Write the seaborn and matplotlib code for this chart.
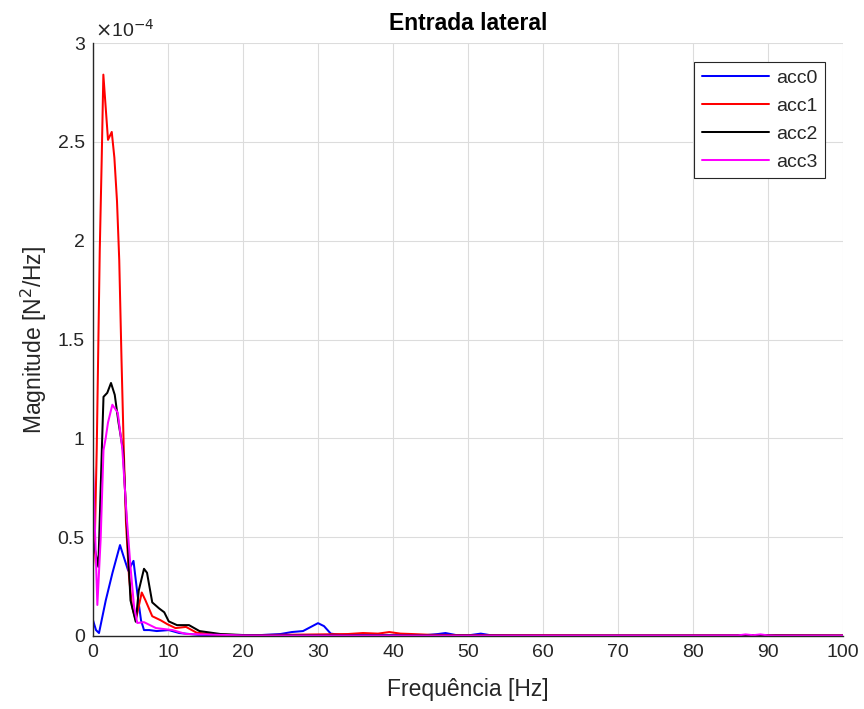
import numpy as np
import pandas as pd
import matplotlib
matplotlib.use("Agg")
import matplotlib.pyplot as plt
import seaborn as sns

# ---- data (values in units of 1e-4 N^2/Hz) ----
f_acc0 = [0, 0.4, 0.8, 1.7, 2.6, 3.6, 4.1, 4.7, 5.4, 5.9, 6.4, 6.8, 7.5, 8.5, 10.1, 11.5, 14, 18, 22,
          25, 26.5, 28, 29, 30, 30.8, 31.7, 33, 36, 40, 44, 46, 47, 48.5, 50, 51.7, 53, 56, 60, 70,
          80, 90, 100]
v_acc0 = [0.08, 0.03, 0.015, 0.18, 0.32, 0.46, 0.40, 0.33, 0.38, 0.22, 0.08, 0.03, 0.03, 0.025, 0.03,
          0.015, 0.006, 0.003, 0.004, 0.01, 0.02, 0.025, 0.045, 0.065, 0.05, 0.012, 0.006, 0.004,
          0.004, 0.003, 0.01, 0.015, 0.004, 0.003, 0.012, 0.004, 0.002, 0.002, 0.002, 0.002, 0.002,
          0.002]

f_acc1 = [0, 0.25, 0.5, 0.9, 1.16, 1.38, 2.0, 2.5, 2.85, 3.2, 3.5, 3.8, 4.1, 4.4, 4.8, 5.2, 5.7,
          6.5, 7.0, 7.9, 9.0, 9.9, 11, 12.4, 13.8, 16, 20, 25, 30, 34, 36, 38, 39.5, 41, 42.5, 45,
          50, 60, 70, 80, 90, 100]
v_acc1 = [0.35, 0.5, 0.95, 1.95, 2.41, 2.84, 2.51, 2.55, 2.42, 2.2, 1.9, 1.4, 0.95, 0.57, 0.3, 0.15,
          0.08, 0.22, 0.18, 0.10, 0.08, 0.06, 0.04, 0.046, 0.017, 0.008, 0.004, 0.006, 0.008, 0.01,
          0.015, 0.012, 0.02, 0.012, 0.01, 0.006, 0.004, 0.004, 0.003, 0.003, 0.004, 0.003]

f_acc2 = [0, 0.35, 0.71, 1.2, 1.4, 1.9, 2.4, 2.9, 3.4, 4.0, 4.6, 5.0, 5.7, 6.1, 6.8, 7.2, 7.9, 8.8,
          9.5, 10.1, 11.2, 12.8, 14.2, 17, 20, 25, 30, 40, 50, 60, 70, 80, 90, 100]
v_acc2 = [0.49, 0.42, 0.35, 0.97, 1.21, 1.23, 1.28, 1.22, 1.08, 0.94, 0.49, 0.18, 0.072, 0.23, 0.34,
          0.32, 0.17, 0.14, 0.12, 0.074, 0.055, 0.055, 0.025, 0.01, 0.005, 0.004, 0.003, 0.003,
          0.003, 0.002, 0.002, 0.002, 0.003, 0.002]

f_acc3 = [0, 0.58, 1.02, 1.4, 1.69, 2.0, 2.58, 3.3, 3.9, 4.5, 5.0, 5.47, 5.9, 6.8, 8.4, 10.6, 12.4,
          20, 30, 40, 50, 60, 70, 80, 86, 87, 88, 89, 90, 91, 95, 100]
v_acc3 = [0.86, 0.157, 0.49, 0.94, 1.0, 1.08, 1.17, 1.13, 0.95, 0.6, 0.35, 0.15, 0.066, 0.07, 0.04,
          0.03, 0.01, 0.003, 0.002, 0.002, 0.002, 0.002, 0.002, 0.002, 0.003, 0.008, 0.004, 0.008,
          0.003, 0.002, 0.002, 0.002]

series_names = ["acc0", "acc1", "acc2", "acc3"]
series_colors = ["#0000ff", "#ff0000", "#000000", "#ff00ff"]

x_ticks = [0, 10, 20, 30, 40, 50, 60, 70, 80, 90, 100]
y_ticks = [0, 0.5, 1, 1.5, 2, 2.5, 3]
y_tick_labels = ["0", "0.5", "1", "1.5", "2", "2.5", "3"]

# ---- long-form table ----
frames = []
for name, f, v in zip(series_names, [f_acc0, f_acc1, f_acc2, f_acc3],
                      [v_acc0, v_acc1, v_acc2, v_acc3]):
    frames.append(pd.DataFrame({"freq": f, "mag": v, "sensor": name}))
df = pd.concat(frames, ignore_index=True)

sns.set_style("white")
plt.rcParams["font.family"] = ["Liberation Sans", "DejaVu Sans"]

fig = plt.figure(figsize=(8.64, 7.09), dpi=100)
ax = fig.add_axes([93 / 864, 1 - 636 / 709, 750 / 864, 593 / 709])

sns.lineplot(data=df, x="freq", y="mag", hue="sensor", palette=series_colors,
             estimator=None, sort=True, linewidth=1.45, ax=ax)

ax.set_xlim(0, 100)
ax.set_ylim(0, 3)
ax.set_xticks(x_ticks)
ax.set_yticks(y_ticks)
ax.set_yticklabels(y_tick_labels)
ax.grid(True, color="#dcdcdc", linewidth=0.8)
ax.set_axisbelow(True)
for s in ["top", "right"]:
    ax.spines[s].set_visible(False)
for s in ["left", "bottom"]:
    ax.spines[s].set_color("#262626")
    ax.spines[s].set_linewidth(1.0)
ax.tick_params(direction="in", length=5, width=0.8, colors="#262626",
               labelsize=14, labelcolor="#262626", pad=6)

ax.set_xlabel("Frequência [Hz]", fontsize=16.5, color="#262626", labelpad=12)
ax.set_ylabel("Magnitude [N$^2$/Hz]", fontsize=16.5, color="#262626", labelpad=6)
ax.set_title("Entrada lateral", fontsize=16.5, fontweight="bold", color="#000000", pad=9)
ax.text(0.003, 1.003, r"$\times$10$^{-4}$", transform=ax.transAxes, fontsize=14,
        color="#262626", ha="left", va="bottom")

leg = ax.legend(loc="upper right", bbox_to_anchor=(0.976, 0.968), fontsize=14,
                frameon=True, fancybox=False, edgecolor="#262626", framealpha=1,
                handlelength=3.45, labelspacing=0.54, borderpad=0.37, handletextpad=0.4,
                borderaxespad=0)
leg.get_frame().set_linewidth(0.8)
for line in leg.get_lines():
    line.set_linewidth(1.45)

fig.savefig("out.png", dpi=100)
